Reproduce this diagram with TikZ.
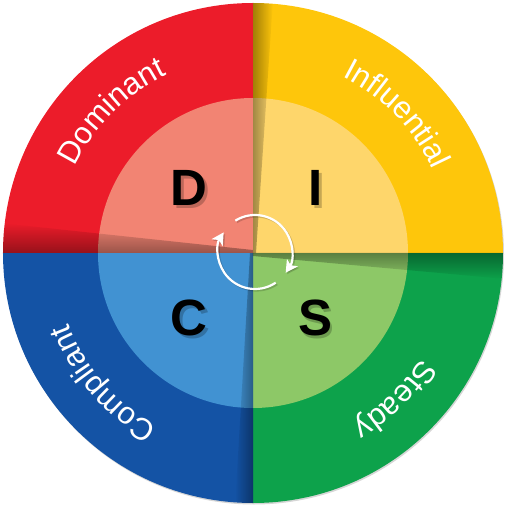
\documentclass[tikz,border=0pt]{standalone}
\usepackage{fontspec}
\setmainfont{Liberation Sans}
\usetikzlibrary{decorations.text,fadings,arrows.meta}

\newfontfamily\ringfam{Liberation Sans}
\newcommand\ringfont{\ringfam\fontsize{31}{31}\selectfont}
\newcommand\bigfont{\ringfam\bfseries\fontsize{51}{51}\selectfont}

\definecolor{redOut}{HTML}{EC1C2A}
\definecolor{redIn}{HTML}{F28473}
\definecolor{yelOut}{HTML}{FEC60B}
\definecolor{yelIn}{HTML}{FED66B}
\definecolor{grnOut}{HTML}{0DA24B}
\definecolor{grnIn}{HTML}{8DC867}
\definecolor{bluOut}{HTML}{1453A5}
\definecolor{bluIn}{HTML}{4192D2}

% soft fold shadows: opaque along the named side
\tikzfading[name=fromS, bottom color=transparent!0, top color=transparent!100]
\tikzfading[name=fromN, top color=transparent!0, bottom color=transparent!100]
\tikzfading[name=fromW, left color=transparent!0, right color=transparent!100]
\tikzfading[name=fromE, right color=transparent!0, left color=transparent!100]

\tikzset{
  bigletter/.style={font=\bigfont, text=black, inner sep=0pt},
  bigshade/.style={font=\bigfont, text=black, inner sep=0pt, text opacity=0.22},
  fold/.style={black, fill opacity=0.36},
  cyc/.style={white, line width=2.2pt, -{Stealth[length=12pt,width=13pt,inset=3pt]}},
  cycshade/.style={black, opacity=0.16, line width=2.2pt, -{Stealth[length=12pt,width=13pt,inset=3pt]}},
  ringlabel/.style={decorate, decoration={text along path, text align=center,
      text color=white, text={|\ringfont|#1}}}
}

\begin{document}
\begin{tikzpicture}[x=1pt,y=1pt]
\useasboundingbox (-253,-253) rectangle (253,253);

% rim shadow
\fill[black!16] (1,-1.5) circle (250);

% outer ring quadrants
\fill[redOut] (0,0) -- (180:250) arc[start angle=180,end angle=90,radius=250] -- cycle;
\fill[yelOut] (0,0) -- (90:250) arc[start angle=90,end angle=0,radius=250] -- cycle;
\fill[grnOut] (0,0) -- (0:250) arc[start angle=0,end angle=-90,radius=250] -- cycle;
\fill[bluOut] (0,0) -- (-90:250) arc[start angle=-90,end angle=-180,radius=250] -- cycle;

% inner disc quadrants
\fill[redIn] (0,0) -- (180:155) arc[start angle=180,end angle=90,radius=155] -- cycle;
\fill[yelIn] (0,0) -- (90:155) arc[start angle=90,end angle=0,radius=155] -- cycle;
\fill[grnIn] (0,0) -- (0:155) arc[start angle=0,end angle=-90,radius=155] -- cycle;
\fill[bluIn] (0,0) -- (-90:155) arc[start angle=-90,end angle=-180,radius=155] -- cycle;

% folded-paper shading along the dividing lines
\begin{scope}
  \clip (0,0) circle (250);
  \fill[fold, path fading=fromS] (0,0) -- (-253,0) -- (-253,30) -- (0,3) -- cycle;
  \fill[fold, path fading=fromW] (0,0) -- (0,253) -- (20,253) -- (3,0) -- cycle;
  \fill[fold, path fading=fromN] (0,0) -- (253,0) -- (253,-26) -- (0,-3) -- cycle;
  \fill[fold, path fading=fromE] (0,0) -- (0,-253) -- (-18,-253) -- (-3,0) -- cycle;
\end{scope}

% ring labels
\path[ringlabel={Dominant}]
  (195:198) arc[start angle=195,end angle=75,radius=198];
\path[ringlabel={Influential}]
  (104:198) arc[start angle=104,end angle=-16,radius=198];
\path[ringlabel={Steady}]
  (14:198) arc[start angle=14,end angle=-106,radius=198];
\path[ringlabel={Compliant}]
  (281:198) arc[start angle=281,end angle=161,radius=198];

% big letters with soft shadows
\node[bigshade] (dsh) at (-61.5,62) {D};
\node[bigletter] (d) at (-64,65) {D};
\node[bigshade] (ish) at (65.5,62) {I};
\node[bigletter] (i) at (63,65) {I};
\node[bigshade] (csh) at (-61.5,-68) {C};
\node[bigletter] (c) at (-64,-65) {C};
\node[bigshade] (ssh) at (65,-68) {S};
\node[bigletter] (s) at (62.5,-65) {S};

% cycle arrows in the middle
\coordinate (hub) at (2,1);
\coordinate (hubsh) at (3.5,-0.5);
\draw[cycshade] ([shift={(122:37)}]hubsh) arc[start angle=122,end angle=-34,radius=37];
\draw[cycshade] ([shift={(-56:37)}]hubsh) arc[start angle=-56,end angle=-212,radius=37];
\draw[cyc] ([shift={(122:37)}]hub) arc[start angle=122,end angle=-34,radius=37];
\draw[cyc] ([shift={(-56:37)}]hub) arc[start angle=-56,end angle=-212,radius=37];
\end{tikzpicture}
\end{document}
